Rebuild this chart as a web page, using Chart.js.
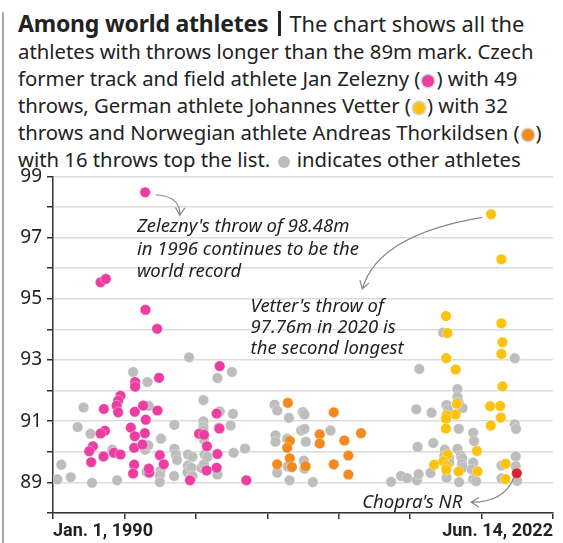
<!DOCTYPE html>
<html lang="en">
<head>
  <meta charset="UTF-8" />
  <title>Among world athletes</title>
  <style>
    body { margin: 0; width: 563px; height: 543px; background: #fff; overflow: hidden; position: relative; font-family: "Noto Sans", Arial, sans-serif; color: #222; }
    .bar-left { position: absolute; left: 2px; top: 12px; width: 2px; height: 531px; background: #aaa; }
    .intro { position: absolute; left: 18px; top: 10px; font-size: 20.3px; line-height: 27px; white-space: nowrap; }
    .intro b { font-size: 23px; font-weight: 700; letter-spacing: -0.2px; }
    .intro .first { font-size: 21.8px; }
    .pipe { display: inline-block; width: 3px; height: 25px; background: #222; margin: 0 8px 0 10px; vertical-align: -4px; }
    .dot { display: inline-block; width: 12px; height: 12px; border-radius: 50%; box-shadow: 0 0 0 1.5px #d6d6d6; vertical-align: -1px; margin: 0 2px; }
    .chart-box { position: absolute; left: 0; top: 160px; width: 563px; height: 383px; }
  </style>
</head>
<body>
  <div class="bar-left"></div>
  <div class="intro">
    <b>Among world athletes</b><span class="pipe"></span><span class="first">The chart shows all the</span><br>
    athletes with throws longer than the 89m mark. Czech<br>
    former track and field athlete Jan Zelezny (<span class="dot" style="background:#ec3ea1"></span>) with 49<br>
    throws, German athlete Johannes Vetter (<span class="dot" style="background:#fcc20e"></span>) with 32<br>
    throws and Norwegian athlete Andreas Thorkildsen (<span class="dot" style="background:#f28a1e"></span>)<br>
    with 16 throws top the list. <span class="dot" style="background:#bdbdbd;box-shadow:none"></span> indicates other athletes
  </div>
  <div class="chart-box"><canvas id="grafico" width="563" height="383"></canvas></div>

  <script src="https://cdn.jsdelivr.net/npm/chart.js"></script>
  <script>
    // x = position on the time axis (decimal year), y = throw in metres
    const zeleznyX = [1995.33, 1995.33, 1994.38, 1994.23, 1994.13, 1994.23, 1993.30, 1995.31, 1995.85, 1996.02,
      1995.05, 1993.37, 1993.09, 1995.96, 1995.31, 1992.59, 1992.35, 1995.27, 1995.81, 1993.95,
      1994.38, 1993.28, 1992.48, 1995.27, 1995.20, 1996.26, 1996.22, 2000.82, 1996.88, 1996.78,
      2000.62, 2000.80, 1999.48, 1999.80, 1999.99, 1996.93, 2000.67, 1997.19, 2000.62, 1999.97,
      1998.89, 2002.55, 1995.98, 1993.09, 1993.43, 1996.00, 1996.76];
    const zeleznyY = [92.28, 92.13, 91.83, 91.67, 91.51, 91.29, 91.40, 91.31, 91.51, 91.05,
      90.79, 90.69, 90.60, 90.61, 90.51, 90.18, 90.02, 90.13, 90.24, 89.97,
      89.91, 89.85, 89.66, 89.58, 89.29, 89.32, 89.45, 92.80, 92.42, 91.35,
      91.25, 90.76, 90.59, 90.56, 90.18, 89.89, 89.93, 89.59, 89.48, 89.39,
      89.07, 89.07, 98.48, 95.54, 95.65, 94.64, 94.02];

    const vetterX = [2018.43, 2019.10, 2015.50, 2019.10, 2015.60, 2019.17, 2019.10, 2015.52, 2016.13, 2019.17,
      2016.21, 2018.37, 2019.02, 2016.13, 2015.54, 2015.50, 2019.06, 2018.41, 2015.50, 2017.51,
      2015.60, 2015.34, 2014.74, 2015.55, 2015.52, 2016.32, 2017.55, 2019.37, 2019.37];
    const vetterY = [97.76, 96.29, 94.44, 94.20, 93.88, 93.58, 93.20, 93.06, 92.69, 92.14,
      91.57, 91.49, 91.50, 91.22, 91.19, 91.08, 91.12, 90.86, 90.76, 90.03,
      89.91, 89.69, 89.58, 89.54, 89.41, 89.36, 89.36, 89.61, 89.11];

    const thorkildsenX = [2005.24, 2008.22, 2007.31, 2007.31, 2009.99, 2008.91, 2005.37, 2005.20, 2009.17, 2005.37,
      2004.55, 2005.50, 2006.39, 2008.22, 2009.17];
    const thorkildsenY = [91.60, 91.29, 90.57, 90.27, 90.61, 90.37, 90.36, 90.13, 89.88, 89.79,
      89.59, 89.50, 89.53, 89.59, 89.26];

    const chopraX = [2020.10];
    const chopraY = [89.30];

    const othersX = [1990.28, 1990.54, 1991.15, 1991.60, 1991.98, 1992.43, 1992.53, 1993.85, 1994.16, 1995.20,
      1996.13, 1996.22, 1995.99, 1996.19, 1996.07, 1997.01, 1996.98, 1996.93, 1996.93, 1997.88,
      1997.88, 1997.97, 1998.05, 1997.86, 1998.76, 1998.76, 1998.72, 1998.83, 1998.98, 1999.05,
      1999.05, 1999.63, 1999.80, 1999.76, 1999.76, 1999.76, 1999.76, 1999.80, 1999.84, 2000.02,
      2000.67, 2001.61, 2000.82, 2001.68, 2000.77, 2001.53, 2000.67, 2001.72, 2002.46, 2004.38,
      2004.55, 2006.21, 2006.32, 2005.31, 2006.11, 2006.32, 2008.01, 2004.44, 2004.44, 2005.20,
      2006.41, 2006.28, 2005.24, 2006.32, 2004.55, 2005.35, 2006.86,
      2011.94, 2012.59, 2012.98, 2013.62, 2013.73, 2014.50, 2013.66, 2014.68, 2013.58, 2014.57,
      2013.77, 2015.32, 2015.54, 2015.43, 2015.40, 2015.71, 2015.71, 2015.54, 2015.65, 2016.25,
      2016.25, 2016.32, 2016.41, 2016.58, 2016.33, 2016.25, 2016.47, 2016.56, 2016.54, 2016.58,
      2016.36, 2017.27, 2017.33, 2017.27, 2017.17, 2017.27, 2017.46, 2019.11, 2019.11, 2019.97,
      2019.97, 2020.05, 2020.03, 2020.03, 2020.12];
    const othersY = [89.10, 89.58, 89.17, 90.81, 91.45, 90.59, 88.99, 90.07, 89.07, 92.61,
      92.28, 91.50, 90.07, 90.21, 89.34, 90.43, 89.39, 89.23, 89.01, 90.88,
      90.10, 89.91, 89.73, 89.21, 89.91, 89.55, 89.33, 93.09, 89.48, 89.84,
      89.21, 89.48, 89.59, 91.69, 91.00, 90.81, 90.70, 90.40, 89.91, 89.84,
      92.41, 92.61, 91.32, 91.24, 90.80, 90.86, 89.26, 89.97, 90.11, 91.54,
      91.35, 91.30, 91.22, 91.11, 90.70, 90.75, 90.70, 90.54, 90.33, 90.43,
      90.33, 89.71, 89.52, 89.45, 89.32, 89.07, 89.01,
      89.02, 89.21, 89.14, 89.07, 89.27, 89.31, 90.16, 90.29, 91.39, 91.28,
      92.71, 93.90, 89.15, 90.07, 89.86, 89.80, 89.64, 91.53, 91.37, 92.05,
      91.79, 91.62, 91.49, 91.43, 90.75, 90.10, 89.88, 89.78, 89.59, 89.48,
      89.01, 90.62, 90.35, 89.65, 89.42, 89.10, 89.04, 89.55, 89.13, 93.06,
      90.90, 90.75, 89.85, 89.53, 89.05];

    const xInicio = 1990, xFim = 2022.45;
    const xLabels = ['Jan. 1, 1990', 'Jun. 14, 2022'];
    const yTicks = [89, 91, 93, 95, 97, 99];

    function pontos(xs, ys) {
      return xs.map((x, i) => ({ x: x, y: ys[i] }));
    }

    function serie(nome, xs, ys, cor, ordem) {
      return {
        label: nome,
        data: pontos(xs, ys),
        backgroundColor: cor,
        borderColor: 'rgba(255,255,255,0.35)',
        borderWidth: 1,
        pointRadius: 5.3,
        pointHoverRadius: 5.3,
        order: ordem
      };
    }

    // Notes and arrows, anchored in data units
    const notas = [
      { lines: ["Zelezny's throw of 98.48m", 'in 1996 continues to be the', 'world record'], x: 1995.45, y: [97.35, 96.6, 95.87], align: 'left' },
      { lines: ["Vetter's throw of", '97.76m in 2020 is', 'the second longest'], x: 2002.82, y: [94.73, 94.05, 93.37], align: 'left' },
      { lines: ["Chopra's NR"], x: 2016.56, y: [88.35], align: 'right' }
    ];
    const setas = [
      { from: [1996.67, 98.40], ctrl: [1998.29, 98.35], to: [1998.23, 97.73] },
      { from: [2017.85, 97.66], ctrl: [2011.05, 97.08], to: [2010.08, 95.32] },
      { from: [2019.92, 89.16], ctrl: [2019.28, 88.35], to: [2017.14, 88.35] }
    ];

    const anotacoes = {
      id: 'anotacoes',
      afterDraw(chart) {
        const ctx = chart.ctx;
        const sx = chart.scales.x, sy = chart.scales.y;
        ctx.save();
        ctx.fillStyle = '#222';
        ctx.font = 'italic 18.5px "Noto Sans", Arial, sans-serif';
        ctx.textBaseline = 'middle';
        notas.forEach(n => {
          ctx.textAlign = n.align;
          n.lines.forEach((t, i) => ctx.fillText(t, sx.getPixelForValue(n.x), sy.getPixelForValue(n.y[i])));
        });
        ctx.strokeStyle = '#888';
        ctx.lineWidth = 1.2;
        setas.forEach(s => {
          const x0 = sx.getPixelForValue(s.from[0]), y0 = sy.getPixelForValue(s.from[1]);
          const cx = sx.getPixelForValue(s.ctrl[0]), cy = sy.getPixelForValue(s.ctrl[1]);
          const x1 = sx.getPixelForValue(s.to[0]), y1 = sy.getPixelForValue(s.to[1]);
          ctx.beginPath();
          ctx.moveTo(x0, y0);
          ctx.quadraticCurveTo(cx, cy, x1, y1);
          const ang = Math.atan2(y1 - cy, x1 - cx);
          ctx.moveTo(x1 - 9 * Math.cos(ang - 0.55), y1 - 9 * Math.sin(ang - 0.55));
          ctx.lineTo(x1, y1);
          ctx.lineTo(x1 - 9 * Math.cos(ang + 0.55), y1 - 9 * Math.sin(ang + 0.55));
          ctx.stroke();
        });
        ctx.restore();
      }
    };

    new Chart(document.getElementById('grafico'), {
      type: 'scatter',
      data: {
        datasets: [
          serie('Other athletes', othersX, othersY, '#bdbdbd', 5),
          serie('Andreas Thorkildsen', thorkildsenX, thorkildsenY, '#f28a1e', 3),
          serie('Jan Zelezny', zeleznyX, zeleznyY, '#ec3ea1', 2),
          serie('Johannes Vetter', vetterX, vetterY, '#fcc20e', 1),
          serie('Neeraj Chopra', chopraX, chopraY, '#d8262f', 0)
        ]
      },
      options: {
        responsive: false,
        animation: false,
        events: [],
        layout: { padding: { top: 11, right: 10, left: 0, bottom: 0 } },
        plugins: { legend: { display: false }, tooltip: { enabled: false } },
        scales: {
          x: {
            type: 'linear',
            min: xInicio,
            max: xFim,
            afterBuildTicks: scale => {
              const passo = (xFim - xInicio) / 7;
              scale.ticks = Array.from({ length: 8 }, (_, i) => ({ value: xInicio + passo * i }));
            },
            afterFit: scale => { scale.height = 30; },
            grid: { drawOnChartArea: false, tickLength: 6, tickColor: '#333', lineWidth: 1.5 },
            border: { color: '#333', width: 1.5 },
            ticks: {
              autoSkip: false,
              maxRotation: 0,
              align: 'inner',
              padding: 2,
              color: '#222',
              font: { family: '"Liberation Sans Narrow", Roboto, Arial, sans-serif', size: 18, weight: 'bold' },
              callback: (v, i, arr) => i === 0 ? xLabels[0] : (i === arr.length - 1 ? xLabels[1] : '')
            }
          },
          y: {
            min: 88,
            max: 99,
            afterFit: scale => { scale.width = 53; },
            grid: { color: '#dcdcdc', lineWidth: 1.5, tickLength: 6, tickColor: '#333' },
            border: { color: '#333', width: 1.5 },
            ticks: {
              stepSize: 1,
              padding: 5,
              color: '#222',
              font: { family: '"Noto Sans", Arial, sans-serif', size: 19 },
              callback: v => yTicks.includes(v) ? String(v) : ''
            }
          }
        }
      },
      plugins: [anotacoes]
    });
  </script>
</body>
</html>
